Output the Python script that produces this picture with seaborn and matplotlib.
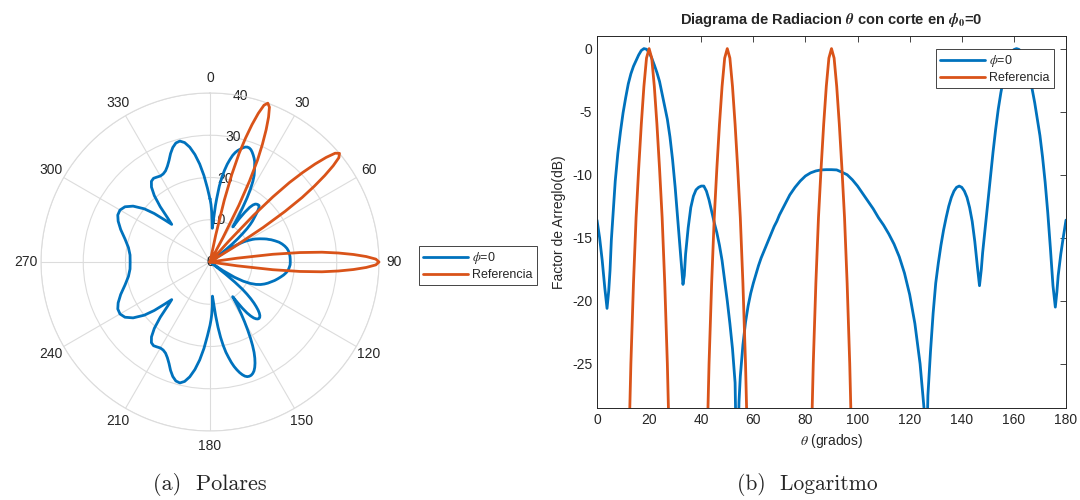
import numpy as np
import matplotlib
matplotlib.use("Agg")
import matplotlib.pyplot as plt
import seaborn as sns
import pandas as pd

# ---------------- data ----------------
# (b) normalized array factor, phi = 0 cut (dB)
theta_phi0 = [0, 1, 2, 3, 3.85, 4.5, 5, 5.5, 6, 7, 8, 9, 10, 11, 12, 13, 14, 15, 16, 17, 18,
              19, 20, 21, 22, 23, 24, 25, 26, 27, 28, 29, 30, 31, 32, 33, 33.5, 34, 35, 36, 37,
              38, 39, 40, 41, 42, 43, 44, 45, 46, 47, 48, 49, 50, 51, 52, 53, 53.7, 54.5, 55,
              56, 57, 58, 59, 60, 61, 62, 63, 64, 65, 66, 67, 68, 69, 70, 72, 74, 76, 78, 80,
              82, 84, 86, 88, 90, 92, 94, 96, 98, 100, 102, 104, 106, 108, 110, 112, 114, 116,
              118, 120, 122, 124, 125.5, 126.2, 127, 128, 129, 130, 131, 132, 133, 134, 135,
              136, 137, 138, 139, 140, 141, 142, 143, 144, 145, 146, 146.8, 147.5, 148, 149,
              150, 151, 152, 153, 154, 155, 156, 157, 158, 159, 160, 161, 162, 163, 164, 165,
              166, 167, 168, 169, 170, 171, 172, 173, 174, 175, 175.9, 176.5, 177, 178, 179, 180]
afdb_phi0 = [-13.6, -15.0, -16.8, -19.0, -20.6, -19.2, -17.6, -15.2, -13.6, -10.5, -8.3, -6.6,
             -5.1, -3.9, -2.8, -2.0, -1.4, -0.95, -0.5, -0.15, 0.0,
             -0.05, -0.3, -0.75, -1.3, -1.9, -2.6, -3.6, -4.6, -5.6, -7.0, -8.8, -11.0, -13.6,
             -16.2, -18.7, -18.0, -16.3, -14.2, -12.6, -11.7,
             -11.2, -11.0, -10.9, -10.9, -11.3, -12.0, -12.9, -13.8, -14.6, -15.6, -16.8, -18.4,
             -20.0, -21.8, -23.8, -26.5, -35.0, -28.0, -26.0,
             -23.5, -21.7, -20.4, -19.4, -18.6, -17.9, -17.2, -16.6, -16.1, -15.6, -15.1, -14.6,
             -14.1, -13.7, -13.2, -12.4, -11.6, -11.0, -10.5, -10.1,
             -9.85, -9.7, -9.62, -9.6, -9.6, -9.62, -9.8, -10.0, -10.4, -10.9, -11.5, -12.1,
             -12.7, -13.4, -14.0, -14.7, -15.5, -16.5,
             -17.8, -19.5, -21.8, -25.0, -28.5, -35.0, -27.5, -24.0, -21.0, -18.6, -17.0, -15.6,
             -14.4, -13.4, -12.5,
             -11.8, -11.3, -11.0, -10.9, -11.0, -11.3, -11.8, -12.6, -13.7, -15.3, -17.3, -18.8,
             -17.5, -16.2, -14.2,
             -12.2, -10.2, -8.2, -6.4, -4.8, -3.5, -2.4, -1.5, -0.8, -0.35, -0.08, 0.0, -0.07,
             -0.35, -0.85, -1.5,
             -2.3, -3.2, -4.3, -5.6, -6.9, -8.6, -10.6, -13.0, -15.8, -18.8, -20.5, -19.3, -18.0,
             -16.3, -14.9, -13.6]

# reference pattern (three beams at 20, 50 and 90 degrees), dB
theta_ref = [0,
             10, 11, 12, 13, 14, 15, 16, 17, 18, 19, 20, 21, 22, 23, 24, 25, 26, 27, 28, 29, 30,
             40, 41, 42, 43, 44, 45, 46, 47, 48, 49, 50, 51, 52, 53, 54, 55, 56, 57, 58, 59, 60,
             80, 81, 82, 83, 84, 85, 86, 87, 88, 89, 90, 91, 92, 93, 94, 95, 96, 97, 98, 99, 100,
             180]
afdb_ref = [-60,
            -56, -44, -33.5, -25.0, -18.6, -13.4, -9.5, -6.0, -3.0, -0.75, 0, -0.75, -3.0, -6.0,
            -9.5, -13.4, -18.6, -25.0, -33.5, -44, -56,
            -56, -44, -33.5, -25.0, -18.6, -13.4, -9.5, -6.0, -3.0, -0.75, 0, -0.75, -3.0, -6.0,
            -9.5, -13.4, -18.6, -25.0, -33.5, -44, -56,
            -56, -44, -33.5, -25.0, -18.6, -13.4, -9.5, -6.0, -3.0, -0.75, 0, -0.75, -3.0, -6.0,
            -9.5, -13.4, -18.6, -25.0, -33.5, -44, -56,
            -60]

# (a) polar plot: un-normalized levels (dB) -> peak levels
peak_phi0 = 28.6
peak_ref = 40.0
# other half of the polar cut (180..360 deg), radius read directly
theta_polar_back = [182, 184, 186, 188, 190, 192, 194, 196, 198, 200, 202, 204, 206, 208, 210,
                    212, 214, 216, 218, 220, 222, 224, 225.5, 227, 229, 231, 234, 237, 240, 243,
                    246, 250, 255, 260, 265, 270, 275, 280, 285, 290, 294, 297, 300, 303, 306,
                    309, 311, 313, 314.5, 316, 318, 320, 322, 324, 326, 328, 330, 332, 334, 336,
                    338, 340, 342, 344, 346, 348, 350, 352, 354, 356, 358, 360]
r_polar_back = [17.5, 20.5, 23.3, 25.7, 27.6, 28.9, 29.5, 29.3, 28.5, 27.3, 25.9, 24.8, 24.0,
                23.6, 23.5, 23.7, 23.9, 23.6, 22.5, 20.5, 17.6, 14.3, 12.7, 14.5, 17.5, 20.0,
                22.5, 24.0, 24.6, 24.5, 23.8, 22.5, 20.8, 19.6, 19.0, 18.9, 19.0, 19.6, 20.8,
                22.5, 23.8, 24.5, 24.6, 24.0, 22.5, 20.0, 17.5, 14.5, 12.7, 14.3, 17.6, 20.5,
                22.5, 23.6, 23.9, 23.7, 23.5, 23.6, 24.0, 24.8, 25.9, 27.3, 28.5, 29.3, 29.5,
                28.9, 27.6, 25.7, 23.3, 20.5, 17.5, 14.9]

r_ticks = [0, 10, 20, 30, 40]
r_label_angle = 10.3
theta_ticks = [0, 30, 60, 90, 120, 150, 180, 210, 240, 270, 300, 330]
x_ticks = [0, 20, 40, 60, 80, 100, 120, 140, 160, 180]
y_ticks = [-25, -20, -15, -10, -5, 0]

label_phi0 = r'$\phi$=0'
label_ref = 'Referencia'

# ---------------- style ----------------
sns.set_style("white")
plt.rcParams['font.family'] = ['Liberation Sans', 'DejaVu Sans']
plt.rcParams['mathtext.fontset'] = 'stix'
plt.rcParams['axes.unicode_minus'] = False

BLUE = '#0072BD'
ORANGE = '#D95319'
DARK = '#262626'
GRID = '#dcdcdc'

fig = plt.figure(figsize=(10.8, 5.0), dpi=100)

# ---------------- (a) polar ----------------
axp = fig.add_axes([41/1080, 69/500, 338/1080, 338/500], projection='polar')
df_b = pd.DataFrame({
    'th': np.deg2rad(np.concatenate([theta_phi0, theta_polar_back])),
    'r': np.concatenate([np.clip(np.array(afdb_phi0) + peak_phi0, 0, None), r_polar_back]),
})
df_r = pd.DataFrame({
    'th': np.deg2rad(theta_ref),
    'r': np.clip(np.array(afdb_ref) + peak_ref, 0, None),
})
sns.lineplot(data=df_b, x='th', y='r', ax=axp, color=BLUE, lw=2, sort=False,
             estimator=None, label=label_phi0, clip_on=False)
sns.lineplot(data=df_r, x='th', y='r', ax=axp, color=ORANGE, lw=2, sort=False,
             estimator=None, label=label_ref, clip_on=False, zorder=3)
axp.set_theta_zero_location('N')
axp.set_theta_direction(-1)
axp.set_ylim(0, 40)
axp.set_yticks(r_ticks)
axp.set_yticklabels([''] * len(r_ticks))
for rv in r_ticks:
    axp.text(np.deg2rad(r_label_angle), rv, str(rv), ha='center', va='center',
             fontsize=10, color=DARK, zorder=1)
axp.set_xticks(np.deg2rad(theta_ticks))
axp.set_xticklabels([str(v) for v in theta_ticks])
axp.set_xlabel('')
axp.set_ylabel('')
axp.grid(True, color=GRID, lw=0.8)
axp.spines['polar'].set_color(GRID)
axp.spines['polar'].set_linewidth(0.8)
axp.tick_params(axis='x', labelsize=10, labelcolor=DARK, pad=0)
axp.legend_.remove()
h, l = axp.get_legend_handles_labels()
leg0 = fig.legend(h, l, loc='upper left', bbox_to_anchor=(419/1080, 1 - 246/500),
                  bbox_transform=fig.transFigure, fontsize=9, frameon=True, fancybox=False,
                  framealpha=1, edgecolor=DARK, handlelength=3.6, handletextpad=0.3,
                  labelspacing=0.2, borderpad=0.35, borderaxespad=0)
leg0.get_frame().set_linewidth(0.6)

# ---------------- (b) logarithmic ----------------
axl = fig.add_axes([597/1080, 92/500, 469/1080, 372/500])
sns.lineplot(x=theta_phi0, y=afdb_phi0, ax=axl, color=BLUE, lw=2, sort=False,
             estimator=None, label=label_phi0)
sns.lineplot(x=theta_ref, y=afdb_ref, ax=axl, color=ORANGE, lw=2, sort=False,
             estimator=None, label=label_ref)
axl.set_xlim(0, 180)
axl.set_ylim(-28.5, 1.0)
axl.set_xticks(x_ticks)
axl.set_yticks(y_ticks)
axl.tick_params(axis='both', direction='in', length=4, width=0.6, color=DARK,
                labelsize=10, labelcolor=DARK, top=True, right=True)
for s in axl.spines.values():
    s.set_color(DARK)
    s.set_linewidth(0.7)
axl.set_xlabel(r'$\theta$ (grados)', fontsize=10, color=DARK)
axl.set_ylabel('Factor de Arreglo(dB)', fontsize=10, color=DARK)
axl.set_title(r'Diagrama de Radiacion $\boldsymbol{\theta}$ con corte en '
              r'$\boldsymbol{\phi}_{\mathbf{0}}$=0',
              fontsize=10.5, fontweight='bold', pad=9)
leg = axl.legend(loc='upper right', bbox_to_anchor=(1054/1080, 1 - 49/500),
                 bbox_transform=fig.transFigure, fontsize=9, frameon=True, fancybox=False,
                 framealpha=1, edgecolor=DARK, handlelength=3.6, handletextpad=0.3,
                 labelspacing=0.2, borderpad=0.35, borderaxespad=0)
leg.get_frame().set_linewidth(0.6)

# captions
fig.text(210/1080, 1 - 484/500, '(a)  Polares', ha='center', va='center',
         family='cmr10', fontsize=16)
fig.text(807/1080, 1 - 484/500, '(b)  Logaritmo', ha='center', va='center',
         family='cmr10', fontsize=15.5)

fig.savefig('out.png', dpi=100, facecolor='white')
